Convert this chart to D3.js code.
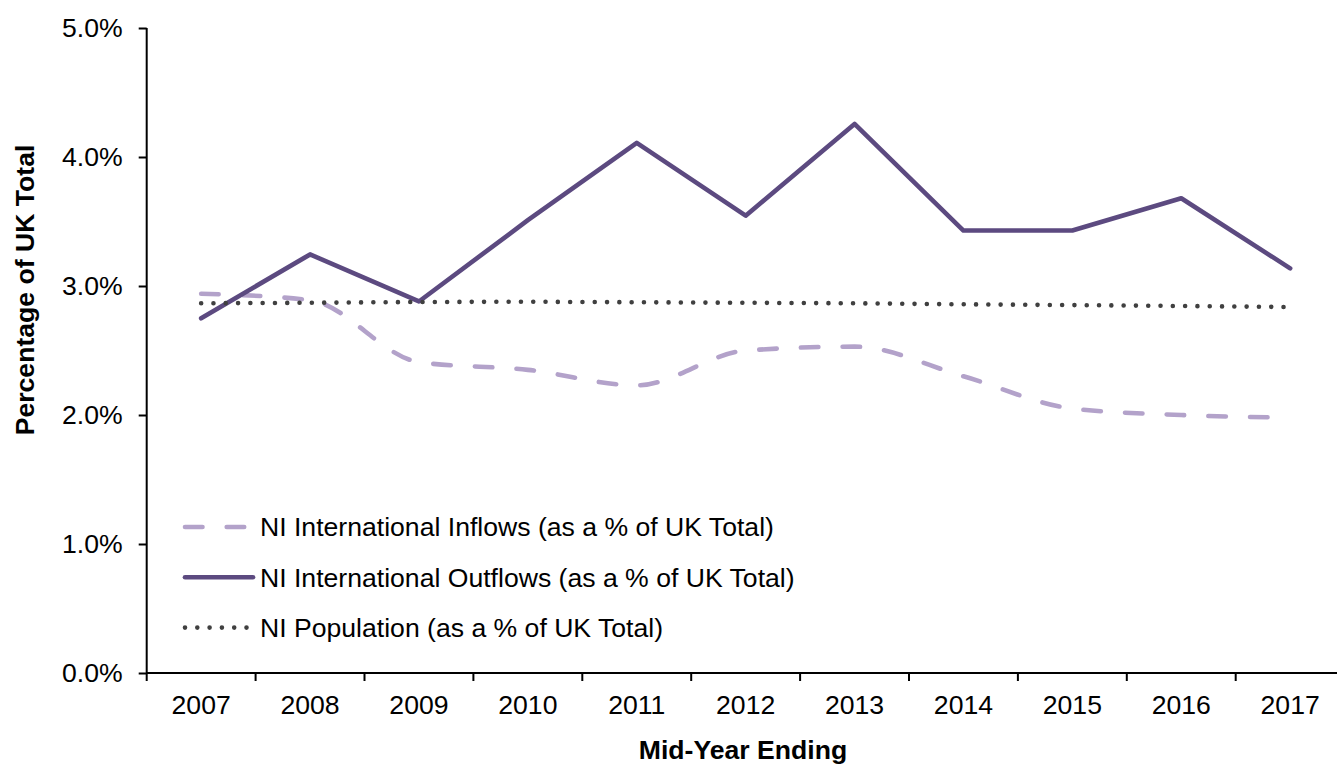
<!DOCTYPE html>
<html>
<head>
<meta charset="utf-8">
<script src="https://cdn.jsdelivr.net/npm/d3@7"></script>
<style>
  body { margin: 0; background: #fff; }
  svg { display: block; font-family: "Liberation Sans", Arial, sans-serif; }
</style>
</head>
<body>
<script>
// data (share of UK total)
const years = ['2007', '2008', '2009', '2010', '2011', '2012', '2013', '2014', '2015', '2016', '2017'];
const inflows = [0.0294, 0.0289, 0.0241, 0.0235, 0.0223, 0.0250, 0.0253, 0.0230, 0.0205, 0.0200, 0.0198];
const outflows = [0.0275, 0.03245, 0.0288, 0.0351, 0.0411, 0.03545, 0.04256, 0.0343, 0.0343, 0.0368, 0.03137];
const population = [0.02866, 0.0287, 0.02876, 0.02878, 0.02874, 0.0287, 0.02866, 0.02858, 0.02852, 0.02845, 0.02837];
const yTicks = [0, 0.01, 0.02, 0.03, 0.04, 0.05];

const series = [
  {name: 'NI International Inflows (as a % of UK Total)', values: inflows, color: '#b3a2ca', dash: '17.5,24.2', curve: d3.curveMonotoneX},
  {name: 'NI International Outflows (as a % of UK Total)', values: outflows, color: '#5c4a80', dash: null, curve: d3.curveLinear},
  {name: 'NI Population (as a % of UK Total)', values: population, color: '#404040', dash: '0,12.3', curve: d3.curveLinear}
];

const width = 1337, height = 764;
const plotLeft = 146.7, plotTop = 28, plotBottom = 673;
const fontSize = 26.6;

const x = d3.scaleBand().domain(years).range([plotLeft, plotLeft + 11 * 108.9]);
const y = d3.scaleLinear().domain([0, 0.05]).range([plotBottom, plotTop]);

const svg = d3.select('body').append('svg')
  .attr('width', width)
  .attr('height', height);

// y axis
const yAxis = svg.append('g')
  .attr('transform', `translate(${plotLeft},0)`)
  .call(d3.axisLeft(y).tickValues(yTicks).tickFormat(d3.format('.1%')).tickSize(8).tickPadding(16));
yAxis.select('.domain').attr('d', `M0,${plotBottom}V${plotTop}`).attr('stroke', '#000').attr('stroke-width', 2);
yAxis.selectAll('.tick line').attr('stroke', '#000').attr('stroke-width', 2);
yAxis.selectAll('.tick text').attr('font-size', fontSize).attr('fill', '#000');
yAxis.attr('font-family', null).attr('font-size', null);

// x axis: labels centred in bands, ticks on band edges
const xAxis = svg.append('g')
  .attr('transform', `translate(0,${plotBottom})`)
  .call(d3.axisBottom(x).tickSize(0).tickPadding(22));
xAxis.select('.domain').attr('d', `M${plotLeft},0H${width}`).attr('stroke', '#000').attr('stroke-width', 2);
xAxis.selectAll('.tick text').attr('font-size', fontSize).attr('fill', '#000');
xAxis.attr('font-family', null).attr('font-size', null);
xAxis.selectAll('.edge')
  .data(years.map(d => x(d)).concat([x.range()[1]]))
  .join('line')
  .attr('class', 'edge')
  .attr('x1', d => d).attr('x2', d => d)
  .attr('y1', 0).attr('y2', 8)
  .attr('stroke', '#000').attr('stroke-width', 2);

// titles
svg.append('text')
  .attr('transform', 'translate(34,290) rotate(-90)')
  .attr('text-anchor', 'middle')
  .attr('font-size', fontSize)
  .attr('font-weight', 'bold')
  .text('Percentage of UK Total');

svg.append('text')
  .attr('x', 743)
  .attr('y', 759)
  .attr('text-anchor', 'middle')
  .attr('font-size', fontSize)
  .attr('font-weight', 'bold')
  .text('Mid-Year Ending');

// lines
const cx = d => x(d) + x.bandwidth() / 2;
series.forEach(s => {
  const line = d3.line()
    .x((d, i) => cx(years[i]))
    .y(d => y(d))
    .curve(s.curve);
  svg.append('path')
    .datum(s.values)
    .attr('d', line)
    .attr('fill', 'none')
    .attr('stroke', s.color)
    .attr('stroke-width', 4.6)
    .attr('stroke-linecap', 'round')
    .attr('stroke-linejoin', 'round')
    .attr('stroke-dasharray', s.dash);
});

// legend
const legend = svg.append('g').selectAll('g')
  .data(series)
  .join('g')
  .attr('transform', (d, i) => `translate(0,${527 + i * 50.3})`);

legend.append('line')
  .attr('x1', 185).attr('x2', 253)
  .attr('stroke', d => d.color)
  .attr('stroke-width', 4.6)
  .attr('stroke-linecap', 'round')
  .attr('stroke-dasharray', d => d.dash);

legend.append('text')
  .attr('x', 260)
  .attr('dy', '0.35em')
  .attr('font-size', fontSize)
  .text(d => d.name);
</script>
</body>
</html>
